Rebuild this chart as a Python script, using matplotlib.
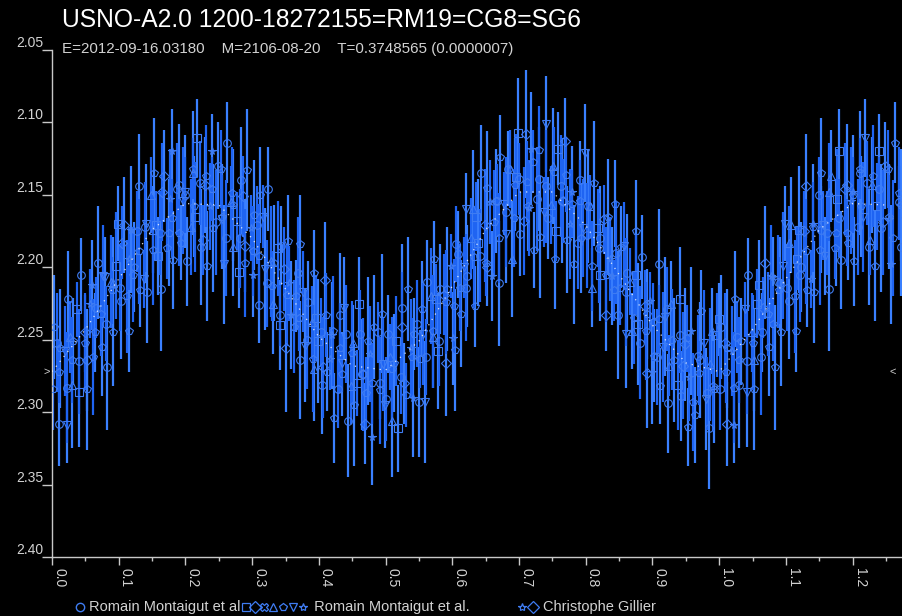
import numpy as np
import matplotlib
matplotlib.use("Agg")
import matplotlib.pyplot as plt
from matplotlib.lines import Line2D
from matplotlib.ticker import MultipleLocator

plt.rcParams['font.family'] = ['Liberation Sans', 'DejaVu Sans']

title = "USNO-A2.0 1200-18272155=RM19=CG8=SG6"
subtitle = "E=2012-09-16.03180    M=2106-08-20    T=0.3748565 (0.0000007)"

# phase, magnitude and error (first set)
phase = [
    0.001, 0.008, 0.010, 0.019, 0.022, 0.027, 0.030, 0.038, 0.041, 0.049,
    0.050, 0.057, 0.062, 0.066, 0.073, 0.077, 0.081, 0.088, 0.090, 0.096,
    0.102, 0.105, 0.113, 0.116, 0.121, 0.127, 0.130, 0.138, 0.140, 0.149,
    0.151, 0.156, 0.162, 0.165, 0.173, 0.177, 0.180, 0.188, 0.191, 0.197,
    0.200, 0.208, 0.211, 0.215, 0.222, 0.226, 0.231, 0.237, 0.240, 0.246,
    0.253, 0.255, 0.261, 0.269, 0.270, 0.278, 0.282, 0.286, 0.290, 0.298,
    0.301, 0.307, 0.310, 0.316, 0.322, 0.328, 0.330, 0.339, 0.341, 0.347,
    0.352, 0.355, 0.363, 0.368, 0.370, 0.376, 0.382, 0.389, 0.391, 0.395,
    0.403, 0.406, 0.410, 0.417, 0.421, 0.428, 0.432, 0.435, 0.441, 0.448,
    0.450, 0.457, 0.462, 0.466, 0.471, 0.477, 0.480, 0.488, 0.492, 0.496,
    0.501, 0.507, 0.510, 0.516, 0.523, 0.525, 0.531, 0.538, 0.540, 0.547,
    0.552, 0.556, 0.560, 0.568, 0.571, 0.576, 0.580, 0.587, 0.590, 0.598,
    0.602, 0.605, 0.611, 0.617, 0.620, 0.628, 0.632, 0.635, 0.641, 0.649,
    0.650, 0.656, 0.663, 0.667, 0.670, 0.678, 0.681, 0.686, 0.692, 0.695,
    0.700, 0.708, 0.712, 0.715, 0.721, 0.727, 0.730, 0.737, 0.741, 0.748,
    0.752, 0.755, 0.763, 0.766, 0.770, 0.777, 0.780, 0.788, 0.791, 0.796,
    0.802, 0.806, 0.810, 0.818, 0.820, 0.827, 0.831, 0.836, 0.842, 0.845,
    0.851, 0.858, 0.860, 0.867, 0.873, 0.875, 0.882, 0.889, 0.890, 0.897,
    0.901, 0.907, 0.910, 0.916, 0.922, 0.925, 0.930, 0.938, 0.941, 0.946,
    0.952, 0.955, 0.961, 0.968, 0.970, 0.977, 0.982, 0.986, 0.990, 0.997,
]
mag = [
    2.284, 2.252, 2.272, 2.258, 2.283, 2.248, 2.264, 2.229, 2.265, 2.245,
    2.252, 2.225, 2.262, 2.228, 2.232, 2.206, 2.239, 2.210, 2.216, 2.199,
    2.214, 2.183, 2.220, 2.194, 2.205, 2.175, 2.189, 2.208, 2.172, 2.150,
    2.188, 2.171, 2.176, 2.148, 2.187, 2.153, 2.166, 2.146, 2.176, 2.154,
    2.150, 2.172, 2.132, 2.165, 2.142, 2.181, 2.137, 2.158, 2.146, 2.169,
    2.132, 2.167, 2.180, 2.155, 2.149, 2.168, 2.180, 2.151, 2.197, 2.173,
    2.189, 2.171, 2.192, 2.165, 2.211, 2.196, 2.213, 2.187, 2.233, 2.201,
    2.219, 2.211, 2.241, 2.204, 2.235, 2.217, 2.250, 2.238, 2.263, 2.235,
    2.245, 2.269, 2.233, 2.263, 2.244, 2.284, 2.256, 2.266, 2.246, 2.282,
    2.259, 2.280, 2.246, 2.274, 2.287, 2.260, 2.280, 2.245, 2.285, 2.267,
    2.291, 2.262, 2.270, 2.251, 2.276, 2.241, 2.288, 2.256, 2.262, 2.239,
    2.263, 2.246, 2.262, 2.220, 2.244, 2.222, 2.251, 2.219, 2.224, 2.199,
    2.227, 2.184, 2.214, 2.200, 2.214, 2.180, 2.193, 2.165, 2.192, 2.171,
    2.197, 2.155, 2.169, 2.154, 2.180, 2.156, 2.162, 2.132, 2.166, 2.138,
    2.139, 2.168, 2.141, 2.159, 2.127, 2.153, 2.119, 2.162, 2.144, 2.157,
    2.134, 2.175, 2.144, 2.154, 2.136, 2.170, 2.156, 2.183, 2.154, 2.173,
    2.178, 2.158, 2.199, 2.173, 2.187, 2.167, 2.205, 2.194, 2.216, 2.190,
    2.214, 2.185, 2.217, 2.210, 2.235, 2.205, 2.252, 2.227, 2.244, 2.223,
    2.238, 2.262, 2.236, 2.255, 2.229, 2.268, 2.250, 2.281, 2.247, 2.268,
    2.249, 2.276, 2.293, 2.261, 2.273, 2.252, 2.287, 2.267, 2.282, 2.247,
]
err = [
    0.028, 0.034, 0.022, 0.031, 0.038, 0.025, 0.030, 0.019, 0.036, 0.027,
    0.033, 0.024, 0.040, 0.021, 0.029, 0.035, 0.026, 0.032, 0.023, 0.037,
    0.030, 0.025, 0.039, 0.022, 0.033, 0.028, 0.036, 0.020, 0.031, 0.026,
    0.038, 0.024, 0.029, 0.034, 0.021, 0.035, 0.027, 0.032, 0.023, 0.037,
    0.026, 0.033, 0.021, 0.038, 0.029, 0.024, 0.035, 0.030, 0.022, 0.036,
    0.027, 0.031, 0.040, 0.025, 0.032, 0.020, 0.034, 0.028, 0.037, 0.023,
    0.031, 0.027, 0.036, 0.022, 0.030, 0.038, 0.024, 0.033, 0.021, 0.029,
    0.035, 0.026, 0.032, 0.039, 0.023, 0.028, 0.034, 0.025, 0.037, 0.030,
    0.024, 0.035, 0.029, 0.022, 0.038, 0.027, 0.031, 0.020, 0.034, 0.026,
    0.036, 0.023, 0.030, 0.039, 0.025, 0.033, 0.028, 0.021, 0.037, 0.032,
    0.029, 0.023, 0.036, 0.031, 0.025, 0.038, 0.022, 0.034, 0.027, 0.030,
    0.020, 0.035, 0.026, 0.033, 0.039, 0.024, 0.031, 0.028, 0.036, 0.022,
    0.033, 0.026, 0.030, 0.021, 0.037, 0.028, 0.035, 0.024, 0.032, 0.039,
    0.023, 0.029, 0.036, 0.025, 0.031, 0.022, 0.038, 0.027, 0.034, 0.030,
    0.025, 0.037, 0.028, 0.033, 0.022, 0.036, 0.030, 0.024, 0.039, 0.027,
    0.031, 0.021, 0.035, 0.029, 0.026, 0.038, 0.023, 0.032, 0.028, 0.034,
    0.036, 0.022, 0.031, 0.027, 0.038, 0.024, 0.033, 0.029, 0.021, 0.035,
    0.026, 0.030, 0.037, 0.023, 0.032, 0.028, 0.039, 0.025, 0.034, 0.020,
    0.027, 0.033, 0.024, 0.038, 0.029, 0.021, 0.035, 0.031, 0.026, 0.037,
    0.023, 0.030, 0.034, 0.028, 0.022, 0.036, 0.025, 0.039, 0.031, 0.029,
]

# second, noisier set of observations
phase2 = [
    0.003, 0.011, 0.012, 0.022, 0.024, 0.030, 0.032, 0.041, 0.043, 0.052,
    0.052, 0.060, 0.064, 0.069, 0.075, 0.080, 0.083, 0.091, 0.092, 0.099,
    0.104, 0.108, 0.115, 0.119, 0.123, 0.130, 0.132, 0.141, 0.142, 0.152,
    0.153, 0.159, 0.164, 0.168, 0.175, 0.180, 0.182, 0.191, 0.193, 0.200,
    0.202, 0.211, 0.213, 0.218, 0.224, 0.229, 0.233, 0.240, 0.242, 0.249,
    0.255, 0.258, 0.263, 0.272, 0.272, 0.281, 0.284, 0.289, 0.292, 0.301,
    0.303, 0.310, 0.312, 0.319, 0.324, 0.331, 0.332, 0.342, 0.343, 0.350,
    0.354, 0.358, 0.365, 0.371, 0.372, 0.379, 0.384, 0.392, 0.393, 0.398,
    0.405, 0.409, 0.412, 0.420, 0.423, 0.431, 0.434, 0.438, 0.443, 0.451,
    0.452, 0.460, 0.464, 0.469, 0.473, 0.480, 0.482, 0.491, 0.494, 0.499,
    0.503, 0.510, 0.512, 0.519, 0.525, 0.528, 0.533, 0.541, 0.542, 0.550,
    0.554, 0.559, 0.562, 0.571, 0.573, 0.579, 0.582, 0.590, 0.592, 0.601,
    0.604, 0.608, 0.613, 0.620, 0.622, 0.631, 0.634, 0.638, 0.643, 0.652,
    0.652, 0.659, 0.665, 0.670, 0.672, 0.681, 0.683, 0.689, 0.694, 0.698,
    0.702, 0.711, 0.714, 0.718, 0.723, 0.730, 0.732, 0.740, 0.743, 0.751,
    0.754, 0.758, 0.765, 0.769, 0.772, 0.780, 0.782, 0.791, 0.793, 0.799,
    0.804, 0.809, 0.812, 0.821, 0.822, 0.830, 0.833, 0.839, 0.844, 0.848,
    0.853, 0.861, 0.862, 0.870, 0.875, 0.878, 0.884, 0.892, 0.892, 0.900,
    0.903, 0.910, 0.912, 0.919, 0.924, 0.928, 0.932, 0.941, 0.943, 0.949,
    0.954, 0.958, 0.963, 0.971, 0.972, 0.980, 0.984, 0.989, 0.992, 0.999,
]
mag2 = [
    2.241, 2.308, 2.256, 2.309, 2.222, 2.281, 2.251, 2.286, 2.205, 2.264,
    2.284, 2.212, 2.245, 2.197, 2.255, 2.207, 2.269, 2.211, 2.245, 2.170,
    2.223, 2.171, 2.244, 2.174, 2.200, 2.144, 2.216, 2.170, 2.217, 2.174,
    2.135, 2.192, 2.215, 2.137, 2.176, 2.120, 2.195, 2.143, 2.183, 2.148,
    2.196, 2.135, 2.158, 2.111, 2.186, 2.143, 2.199, 2.120, 2.173, 2.130,
    2.165, 2.198, 2.114, 2.186, 2.157, 2.203, 2.140, 2.185, 2.133, 2.205,
    2.164, 2.226, 2.150, 2.201, 2.146, 2.225, 2.197, 2.240, 2.185, 2.256,
    2.182, 2.233, 2.220, 2.264, 2.184, 2.254, 2.224, 2.270, 2.204, 2.251,
    2.281, 2.209, 2.272, 2.247, 2.304, 2.233, 2.274, 2.228, 2.306, 2.252,
    2.295, 2.225, 2.274, 2.308, 2.251, 2.317, 2.241, 2.280, 2.232, 2.295,
    2.246, 2.306, 2.266, 2.311, 2.228, 2.280, 2.215, 2.290, 2.246, 2.293,
    2.229, 2.293, 2.210, 2.248, 2.194, 2.258, 2.215, 2.266, 2.215, 2.249,
    2.257, 2.191, 2.232, 2.160, 2.206, 2.160, 2.227, 2.183, 2.135, 2.200,
    2.145, 2.206, 2.154, 2.211, 2.124, 2.177, 2.132, 2.194, 2.143, 2.107,
    2.177, 2.108, 2.158, 2.118, 2.188, 2.139, 2.179, 2.101, 2.166, 2.130,
    2.194, 2.118, 2.154, 2.113, 2.181, 2.148, 2.198, 2.140, 2.180, 2.121,
    2.158, 2.214, 2.142, 2.205, 2.180, 2.233, 2.165, 2.206, 2.156, 2.233,
    2.186, 2.246, 2.204, 2.244, 2.175, 2.239, 2.193, 2.273, 2.232, 2.272,
    2.261, 2.198, 2.282, 2.234, 2.294, 2.225, 2.264, 2.222, 2.289, 2.253,
    2.310, 2.244, 2.302, 2.264, 2.230, 2.291, 2.311, 2.244, 2.284, 2.236,
]
err2 = [
    0.036, 0.029, 0.041, 0.026, 0.033, 0.044, 0.030, 0.038, 0.025, 0.035,
    0.042, 0.031, 0.027, 0.039, 0.034, 0.028, 0.043, 0.032, 0.037, 0.026,
    0.040, 0.033, 0.028, 0.044, 0.031, 0.036, 0.025, 0.041, 0.035, 0.030,
    0.038, 0.027, 0.043, 0.032, 0.037, 0.029, 0.034, 0.042, 0.026, 0.039,
    0.031, 0.043, 0.035, 0.027, 0.040, 0.033, 0.038, 0.026, 0.044, 0.030,
    0.036, 0.041, 0.028, 0.034, 0.039, 0.025, 0.037, 0.032, 0.042, 0.029,
    0.038, 0.026, 0.033, 0.042, 0.029, 0.035, 0.040, 0.031, 0.027, 0.044,
    0.032, 0.037, 0.025, 0.041, 0.034, 0.039, 0.028, 0.036, 0.030, 0.043,
    0.034, 0.040, 0.027, 0.037, 0.031, 0.043, 0.029, 0.035, 0.039, 0.026,
    0.042, 0.032, 0.038, 0.028, 0.044, 0.033, 0.036, 0.025, 0.041, 0.030,
    0.027, 0.039, 0.034, 0.030, 0.044, 0.028, 0.036, 0.041, 0.025, 0.038,
    0.033, 0.042, 0.029, 0.035, 0.026, 0.040, 0.031, 0.037, 0.043, 0.032,
    0.042, 0.030, 0.037, 0.025, 0.035, 0.041, 0.028, 0.044, 0.033, 0.027,
    0.039, 0.031, 0.036, 0.043, 0.029, 0.034, 0.026, 0.040, 0.032, 0.038,
    0.029, 0.044, 0.031, 0.039, 0.026, 0.036, 0.042, 0.033, 0.028, 0.040,
    0.035, 0.025, 0.043, 0.030, 0.037, 0.032, 0.041, 0.027, 0.038, 0.034,
    0.039, 0.027, 0.043, 0.032, 0.036, 0.025, 0.040, 0.034, 0.030, 0.044,
    0.028, 0.037, 0.041, 0.026, 0.035, 0.042, 0.029, 0.038, 0.031, 0.036,
    0.032, 0.038, 0.026, 0.041, 0.034, 0.029, 0.043, 0.036, 0.031, 0.039,
    0.027, 0.044, 0.033, 0.040, 0.028, 0.035, 0.042, 0.030, 0.037, 0.025,
]

# mean light curve (white dotted trace)
mean_phase = [0.00, 0.05, 0.10, 0.15, 0.20, 0.25, 0.30, 0.35, 0.40, 0.45,
              0.50, 0.55, 0.60, 0.65, 0.70, 0.75, 0.80, 0.85, 0.90, 0.95,
              1.00, 1.05, 1.10, 1.15, 1.20, 1.25]
mean_mag = [2.272, 2.243, 2.208, 2.174, 2.156, 2.157, 2.180, 2.215, 2.248, 2.268,
            2.271, 2.251, 2.213, 2.174, 2.148, 2.148, 2.171, 2.205, 2.240, 2.266,
            2.272, 2.243, 2.208, 2.174, 2.156, 2.157]
zero_point = 2.272

y_ticks = [2.05, 2.10, 2.15, 2.20, 2.25, 2.30, 2.35, 2.40]
x_ticks = [0.0, 0.1, 0.2, 0.3, 0.4, 0.5, 0.6, 0.7, 0.8, 0.9, 1.0, 1.1, 1.2]

legend_1 = "Romain Montaigut et al"
legend_2 = " Romain Montaigut et al."
legend_3 = "Christophe Gillier"

bar_col = '#1f64f2'
bar_col2 = '#3a80ff'
mark_col = '#3f7cf2'
txt_col = '#d2d2d2'


def fold(p, m, e):
    # the folded curve is repeated past phase 1
    p, m, e = np.array(p), np.array(m), np.array(e)
    keep = p < 0.28
    return (np.concatenate([p, p[keep] + 1.0]),
            np.concatenate([m, m[keep]]),
            np.concatenate([e, e[keep]]))


fig = plt.figure(figsize=(9.02, 6.16), dpi=100, facecolor='black')
ax = fig.add_axes([52 / 902, 1 - 557 / 616, 1 - 52 / 902, (557 - 50) / 616])
ax.set_facecolor('black')

shapes = ['p', 'o', 'p', 'v', 'o', '^', 'p', 's', 'o', 'D', 'p', '*']
for (p, m, e), col in [(fold(phase2, mag2, err2), bar_col2),
                       (fold(phase, mag, err), bar_col)]:
    ax.errorbar(p, m, yerr=e, fmt='none', ecolor=col,
                elinewidth=1.6, capsize=0, zorder=2)
    for k, sh in enumerate(shapes):
        sel = np.arange(len(p)) % len(shapes) == k
        ax.plot(p[sel], m[sel], linestyle='none', marker=sh,
                markersize=5.5, markerfacecolor='none', markeredgecolor=mark_col,
                markeredgewidth=0.8, zorder=3)

ax.plot(mean_phase, mean_mag, color='white', linestyle=(0, (1, 4)),
        linewidth=0.9, alpha=0.85, zorder=4)

ax.set_xlim(0, 1.274)
ax.set_ylim(2.40, 2.05)

for s in ['top', 'right']:
    ax.spines[s].set_visible(False)
for s in ['left', 'bottom']:
    ax.spines[s].set_color('#c8c8c8')
    ax.spines[s].set_linewidth(1)

ax.set_yticks(y_ticks)
ax.set_yticklabels([f"{v:.2f}" for v in y_ticks])
ax.tick_params(axis='y', direction='out', length=7, width=1, color='#c8c8c8',
               labelcolor=txt_col, labelsize=10, pad=-1)
for lab in ax.get_yticklabels():
    lab.set_va('bottom')

ax.set_xticks(x_ticks)
ax.set_xticklabels([f"{v:.1f}" for v in x_ticks], rotation=270, ha='left')
ax.xaxis.set_minor_locator(MultipleLocator(0.05))
ax.tick_params(axis='x', which='major', direction='out', length=6, width=1,
               color='#c8c8c8', labelcolor=txt_col, labelsize=10, pad=2)
ax.tick_params(axis='x', which='minor', direction='out', length=3, width=1,
               color='#c8c8c8')

ax.text(-0.006, zero_point, '>', transform=ax.get_yaxis_transform(),
        ha='center', va='center', color=txt_col, fontsize=8)
ax.text(0.989, zero_point, '<', transform=ax.get_yaxis_transform(),
        ha='center', va='center', color=txt_col, fontsize=8)

fig.text(62 / 902, 1 - 8 / 616, title, color='white', fontsize=17.7,
         ha='left', va='top')
fig.text(62 / 902, 1 - 53 / 616, subtitle, color=txt_col, fontsize=10.9,
         ha='left', va='baseline')

# legend along the bottom
ly = 1 - 607 / 616
fig.add_artist(Line2D([80 / 902], [ly], marker='o', markersize=6,
                      markerfacecolor='none', markeredgecolor=mark_col,
                      transform=fig.transFigure))
fig.text(89 / 902, ly, legend_1, color=txt_col, fontsize=10.5, ha='left', va='center')
sym_x = [246, 255, 264, 273, 283, 293, 303]
sym_m = ['s', 'D', 'X', '^', 'p', 'v', '*']
for sx, sm in zip(sym_x, sym_m):
    fig.add_artist(Line2D([sx / 902], [ly], marker=sm, markersize=6,
                          markerfacecolor='none', markeredgecolor=mark_col,
                          markeredgewidth=0.9, transform=fig.transFigure))
fig.text(310 / 902, ly, legend_2, color=txt_col, fontsize=10.5, ha='left', va='center')
for sx, sm in zip([522, 533], ['*', 'D']):
    fig.add_artist(Line2D([sx / 902], [ly], marker=sm, markersize=6,
                          markerfacecolor='none', markeredgecolor=mark_col,
                          markeredgewidth=0.9, transform=fig.transFigure))
fig.text(543 / 902, ly, legend_3, color=txt_col, fontsize=10.5, ha='left', va='center')

fig.savefig('out.png', dpi=100, facecolor='black')
